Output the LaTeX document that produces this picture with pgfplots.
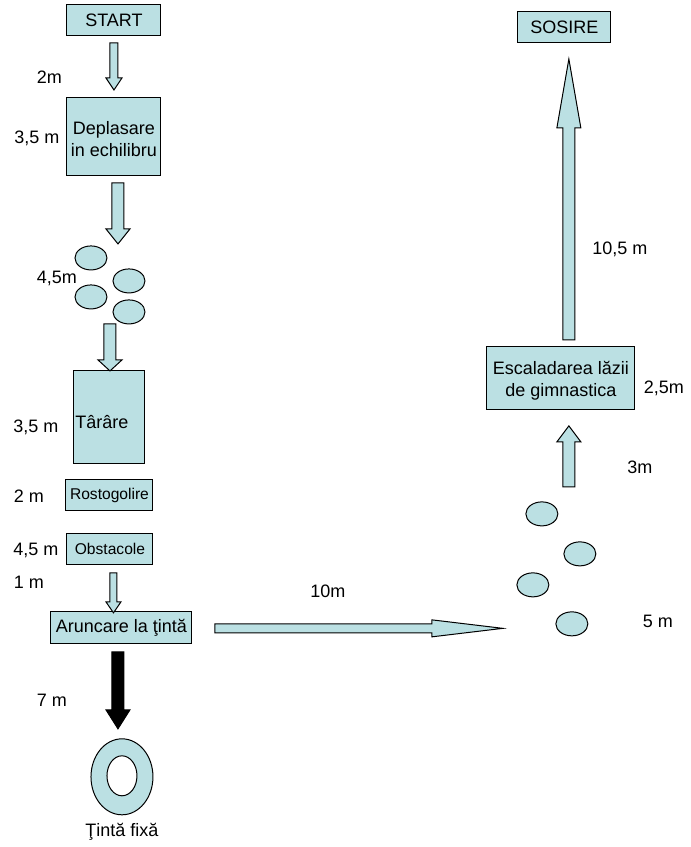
\documentclass[border=0pt]{standalone}
\usepackage{pgfplots}
\pgfplotsset{compat=1.18}
\usepackage{fontspec}
\setmainfont{Liberation Sans}
\definecolor{shape}{HTML}{BBE0E3}
\newcommand{\fa}{\fontsize{9}{11}\selectfont}
\newcommand{\fb}{\fontsize{7.8}{9}\selectfont}
\pgfplotsset{sh/.style={mark=none, line width=0.5pt, draw=black, fill=shape, line join=miter}}
\begin{document}
\begin{tikzpicture}
\begin{axis}[hide axis, scale only axis, width=343.5pt, height=423.5pt,
  xmin=0, xmax=687, ymin=0, ymax=847, y dir=reverse, clip=false]
\path (axis cs:0,0) rectangle (axis cs:687,847);
% boxes
\addplot[sh] coordinates {(67,5) (161,5) (161,36) (67,36)} -- cycle;
\addplot[sh] coordinates {(67,98) (161,98) (161,176) (67,176)} -- cycle;
\addplot[sh] coordinates {(74,371) (145,371) (145,464) (74,464)} -- cycle;
\addplot[sh] coordinates {(66,480) (153,480) (153,511) (66,511)} -- cycle;
\addplot[sh] coordinates {(67,534) (153,534) (153,565) (67,565)} -- cycle;
\addplot[sh] coordinates {(51,612) (192,612) (192,644) (51,644)} -- cycle;
\addplot[sh] coordinates {(518,12) (611,12) (611,43) (518,43)} -- cycle;
\addplot[sh] coordinates {(487,347) (635,347) (635,410) (487,410)} -- cycle;
% down arrows
\addplot[sh] coordinates {(110,43) (118,43) (118,78) (122,78) (114,90) (106,78) (110,78)} -- cycle;
\addplot[sh] coordinates {(112,183) (124,183) (124,229) (130,229) (118,244) (106,229) (112,229)} -- cycle;
\addplot[sh] coordinates {(104,324) (116,324) (116,360) (122,360) (110,371) (98,360) (104,360)} -- cycle;
\addplot[sh] coordinates {(110,573) (117,573) (117,602) (121,602) (113.5,613) (106,602) (110,602)} -- cycle;
\addplot[sh, fill=black] coordinates {(112,652) (124,652) (124,710) (130,710) (118,729) (106,710) (112,710)} -- cycle;
% horizontal arrow
\addplot[sh] coordinates {(215,624) (432,624) (432,620) (503,628.5) (432,637) (432,633) (215,633)} -- cycle;
% up arrows
\addplot[sh] coordinates {(563,340) (563,128) (557,128) (569,59) (581,128) (575,128) (575,340)} -- cycle;
\addplot[sh] coordinates {(563,487) (563,442) (557,442) (569,426) (581,442) (575,442) (575,487)} -- cycle;
% ellipses
\draw[line width=0.5pt, fill=shape] (axis cs:91,258) ellipse [x radius=8pt, y radius=6pt];
\draw[line width=0.5pt, fill=shape] (axis cs:129,281) ellipse [x radius=8pt, y radius=6pt];
\draw[line width=0.5pt, fill=shape] (axis cs:91,297) ellipse [x radius=8pt, y radius=6pt];
\draw[line width=0.5pt, fill=shape] (axis cs:129,312) ellipse [x radius=8pt, y radius=6pt];
\draw[line width=0.5pt, fill=shape] (axis cs:542,514) ellipse [x radius=8pt, y radius=6pt];
\draw[line width=0.5pt, fill=shape] (axis cs:580,554) ellipse [x radius=8pt, y radius=6pt];
\draw[line width=0.5pt, fill=shape] (axis cs:533,585) ellipse [x radius=8pt, y radius=6pt];
\draw[line width=0.5pt, fill=shape] (axis cs:572,624) ellipse [x radius=8pt, y radius=6pt];
% ring
\draw[line width=0.5pt, fill=shape] (axis cs:122,777) ellipse [x radius=15.5pt, y radius=19pt];
\draw[line width=0.5pt, fill=white] (axis cs:122,776) ellipse [x radius=7.5pt, y radius=10pt];
% texts
\node[font=\fa] at (axis cs:114,20.5) {START};
\node[font=\fa, align=center] at (axis cs:114,139) {Deplasare\\in echilibru};
\node[font=\fa] at (axis cs:102,422) {Târâre};
\node[font=\fb] at (axis cs:109.5,495.5) {Rostogolire};
\node[font=\fb] at (axis cs:110,549.5) {Obstacole};
\node[font=\fa] at (axis cs:121.5,628) {Aruncare la ţintă};
\node[font=\fa] at (axis cs:564.5,27.5) {SOSIRE};
\node[font=\fa, align=center] at (axis cs:561,381) {Escaladarea lăzii\\de gimnastica};
\node[font=\fa] at (axis cs:49.5,77) {2m};
\node[font=\fa] at (axis cs:37,138) {3,5 m};
\node[font=\fa] at (axis cs:57,279) {4,5m};
\node[font=\fa] at (axis cs:36,427) {3,5 m};
\node[font=\fa] at (axis cs:29,496) {2 m};
\node[font=\fa] at (axis cs:36,551) {4,5 m};
\node[font=\fa] at (axis cs:29,582) {1 m};
\node[font=\fa] at (axis cs:52,700) {7 m};
\node[font=\fa] at (axis cs:122,832) {Ţintă fixă};
\node[font=\fa] at (axis cs:328,591) {10m};
\node[font=\fa] at (axis cs:658,622) {5 m};
\node[font=\fa] at (axis cs:640,467) {3m};
\node[font=\fa] at (axis cs:664,388) {2,5m};
\node[font=\fa] at (axis cs:620,249) {10,5 m};
\end{axis}
\end{tikzpicture}
\end{document}
